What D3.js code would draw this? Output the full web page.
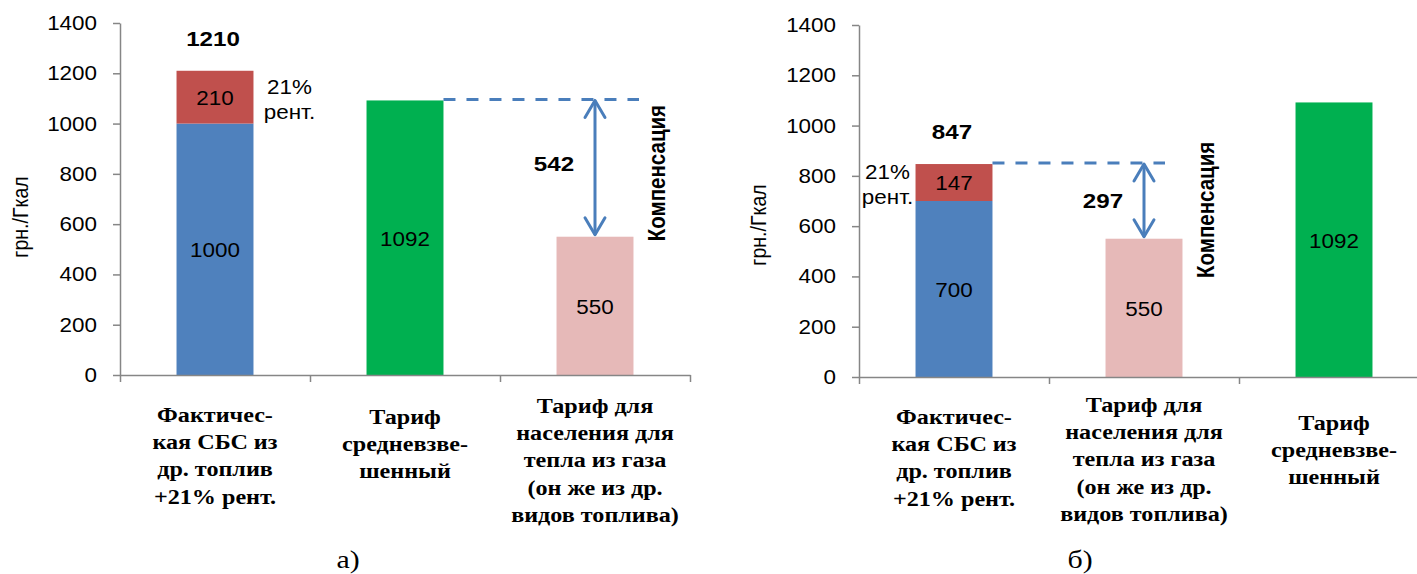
<!DOCTYPE html>
<html>
<head>
<meta charset="utf-8">
<script src="https://cdn.jsdelivr.net/npm/d3@7"></script>
<style>
  body { margin: 0; background: #fff; }
  svg { display: block; }
</style>
</head>
<body>
<svg id="chart" width="1417" height="574"></svg>
<script>
// ---- data ----
const yTicks = [0, 200, 400, 600, 800, 1000, 1200, 1400];

const labelFact = ["Фактичес-", "кая СБС из", "др. топлив", "+21% рент."];
const labelAvg  = ["Тариф", "средневзве-", "шенный"];
const labelPop  = ["Тариф для", "населения для", "тепла из газа", "(он же из др.", "видов топлива)"];

// panel а)
const categoriesA = [labelFact, labelAvg, labelPop];
const costA   = [1000, 0, 0];     // себестоимость
const rentA   = [210, 0, 0];      // 21% рентабельности
const avgA    = [0, 1092, 0];     // тариф средневзвешенный
const popA    = [0, 0, 550];      // тариф для населения
const totalA  = 1210;
const compA   = 542;              // компенсация: 1092 - 550

// panel б)
const categoriesB = [labelFact, labelPop, labelAvg];
const costB   = [700, 0, 0];
const rentB   = [147, 0, 0];
const avgB    = [0, 0, 1092];
const popB    = [0, 550, 0];
const totalB  = 847;
const compB   = 297;              // компенсация: 847 - 550

const panelTitles = ["а)", "б)"];

// ---- styling / layout ----
const colors = { cost: "#4F81BD", rent: "#C0504D", avg: "#00B050", pop: "#E6B9B8" };
const lineBlue = "#4A7EBB";
const axisColor = "#868686";
const SX = 1.15; // horizontal stretch of all lettering
const sans = "'Liberation Sans', Arial, sans-serif";
const serif = "'Liberation Serif', 'Times New Roman', serif";

const svg = d3.select("#chart");

function label(g, x, y, str, o = {}) {
  const t = g.append("text")
    .attr("transform", `translate(${x},${y}) scale(${SX},1)` + (o.rotate ? ` rotate(${o.rotate})` : ""))
    .attr("text-anchor", o.anchor || "middle")
    .attr("dominant-baseline", o.baseline || "central")
    .attr("font-family", o.family || sans)
    .attr("font-size", o.size || 19.5)
    .attr("font-weight", o.bold ? "bold" : "normal")
    .attr("fill", "#000")
    .text(str);
  return t;
}

function drawPanel(cfg) {
  const g = svg.append("g");
  const n = cfg.categories.length;
  const x0 = cfg.left, x1 = cfg.left + n * 190;

  const y = d3.scaleLinear().domain([0, 1400]).range([cfg.bottom, cfg.bottom - 352]);
  const x = d3.scaleBand().domain(d3.range(n)).range([x0, x1])
    .paddingInner(0.595).paddingOuter(0.2975);
  const xEdges = d3.scaleLinear().domain([0, n]).range([x0, x1]);

  const rows = d3.range(n).map(i => ({
    i, cost: cfg.cost[i], rent: cfg.rent[i], avg: cfg.avg[i], pop: cfg.pop[i]
  }));
  const keys = ["cost", "rent", "avg", "pop"];
  const stacked = d3.stack().keys(keys)(rows);

  // bars
  stacked.forEach(layer => {
    g.append("g").selectAll("rect")
      .data(layer.filter(d => d[1] > d[0]))
      .join("rect")
      .attr("x", d => x(d.data.i))
      .attr("width", x.bandwidth())
      .attr("y", d => y(d[1]))
      .attr("height", d => y(d[0]) - y(d[1]))
      .attr("fill", colors[layer.key]);
  });

  // values inside bars
  stacked.forEach(layer => {
    layer.filter(d => d[1] > d[0]).forEach(d => {
      label(g, x(d.data.i) + x.bandwidth() / 2, (y(d[0]) + y(d[1])) / 2 + 1, String(d[1] - d[0]));
    });
  });

  // axes
  const yAxis = g.append("g")
    .attr("transform", `translate(${x0},0)`)
    .call(d3.axisLeft(y).tickValues(yTicks).tickSize(7).tickSizeOuter(0));
  yAxis.selectAll("text").remove();
  yTicks.forEach(v => label(g, x0 - 23, y(v), String(v), { anchor: "end" }));

  const xAxis = g.append("g")
    .attr("transform", `translate(0,${cfg.bottom})`)
    .call(d3.axisBottom(xEdges).tickValues(d3.range(n + 1)).tickFormat("").tickSize(7).tickSizeOuter(0));

  [yAxis, xAxis].forEach(a => {
    a.select(".domain").attr("stroke", axisColor).attr("stroke-width", 1.5);
    a.selectAll(".tick line").attr("stroke", axisColor).attr("stroke-width", 1.5);
  });

  // axis title
  label(g, cfg.titleX, cfg.titleY, "грн./Гкал", { rotate: -90 });

  // total above stacked bar
  const fi = 0;
  const cx = x(fi) + x.bandwidth() / 2;
  label(g, cx - 2, y(cfg.total) - 32, String(cfg.total), { bold: true, size: 21 });

  // "21% рент." note beside the rent segment
  const rentMid = (y(cfg.cost[fi]) + y(cfg.total)) / 2;
  const noteX = cfg.noteRight ? x(fi) + x.bandwidth() + 36 : x(fi) - 28;
  label(g, noteX, rentMid - 10, "21%");
  label(g, noteX, rentMid + 15, "рент.");

  // compensation: dashed level, arrow, labels
  const level = cfg.levelValue;
  const ai = cfg.popIndex;
  const ax = x(ai) + x.bandwidth() / 2;
  const yTop = y(level) - 1;
  const yBot = y(cfg.pop[ai]) - 2;
  g.append("line")
    .attr("x1", x(cfg.levelIndex) + x.bandwidth()).attr("x2", ax + cfg.dashExtra)
    .attr("y1", yTop).attr("y2", yTop)
    .attr("stroke", lineBlue).attr("stroke-width", 3)
    .attr("stroke-dasharray", "12 11");
  g.append("line")
    .attr("x1", ax).attr("x2", ax).attr("y1", yTop + 1).attr("y2", yBot)
    .attr("stroke", lineBlue).attr("stroke-width", 3);
  const head = (yy, dir) => `M${ax - 10},${yy + dir * 17}L${ax},${yy}L${ax + 10},${yy + dir * 17}`;
  g.append("path").attr("d", head(yTop + 1, 1) + head(yBot, -1))
    .attr("fill", "none").attr("stroke", lineBlue).attr("stroke-width", 3)
    .attr("stroke-linejoin", "round").attr("stroke-linecap", "round");

  const mid = (yTop + yBot) / 2;
  label(g, ax - 41, mid - 3 + cfg.compShift, String(cfg.comp), { bold: true, size: 21 });
  label(g, ax + 62, mid + 6 + cfg.compShift, "Компенсация", { bold: true, size: 20.5, rotate: -90 });

  // category labels
  cfg.categories.forEach((lines, i) => {
    lines.forEach((s, k) => {
      label(g, x(i) + x.bandwidth() / 2, cfg.catTop[i] + k * 27.2, s,
        { family: serif, bold: true, size: 21, baseline: "alphabetic" });
    });
  });

  // panel title
  label(g, cfg.panelX, 568, cfg.panelTitle, { family: serif, size: 26, baseline: "alphabetic" });
}

drawPanel({
  left: 120, bottom: 375, categories: categoriesA,
  cost: costA, rent: rentA, avg: avgA, pop: popA, total: totalA, comp: compA,
  levelValue: avgA[1], levelIndex: 1, popIndex: 2, dashExtra: 44, compShift: 0,
  noteRight: true, titleX: 20, titleY: 217,
  catTop: [422, 424, 413], panelX: 348, panelTitle: panelTitles[0]
});

drawPanel({
  left: 859, bottom: 377, categories: categoriesB,
  cost: costB, rent: rentB, avg: avgB, pop: popB, total: totalB, comp: compB,
  levelValue: totalB, levelIndex: 0, popIndex: 1, dashExtra: 21, compShift: 4,
  noteRight: false, titleX: 758, titleY: 225,
  catTop: [424, 412, 430], panelX: 1080, panelTitle: panelTitles[1]
});
</script>
</body>
</html>
